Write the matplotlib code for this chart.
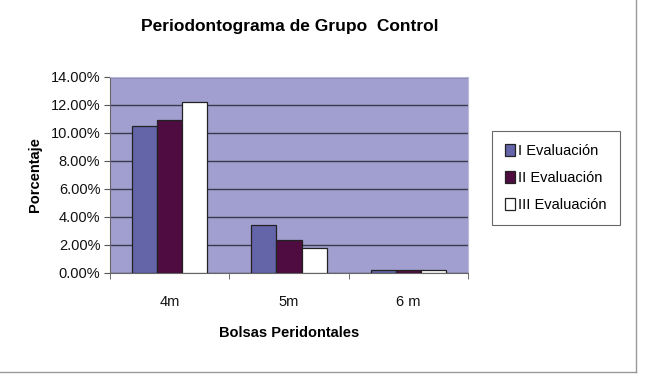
import numpy as np
import matplotlib.pyplot as plt
from matplotlib.ticker import PercentFormatter

plt.rcParams['font.family'] = ['Liberation Sans', 'DejaVu Sans']

# Data
categories = ['4m', '5m', '6 m']
series_names = ['I Evaluación', 'II Evaluación', 'III Evaluación']
eval_1 = [10.5, 3.4, 0.25]
eval_2 = [10.9, 2.35, 0.2]
eval_3 = [12.2, 1.8, 0.22]
yticks = [0, 2, 4, 6, 8, 10, 12, 14]

colors = ['#6464a8', '#4e0c40', '#ffffff']

fig = plt.figure(figsize=(6.54, 3.84), dpi=100)
ax = fig.add_axes([110 / 654, 1 - 273 / 384, 358 / 654, 196 / 384])
ax.set_facecolor('#a19fd0')

x = np.arange(len(categories))
w = 0.21
for i, (vals, name) in enumerate(zip([eval_1, eval_2, eval_3], series_names)):
    ax.bar(x + (i - 1) * w, vals, w, color=colors[i], edgecolor='#222222',
           linewidth=0.9, label=name, zorder=3)

ax.set_xlim(-0.5, 2.5)
ax.set_ylim(0, 14)
ax.set_yticks(yticks)
ax.yaxis.set_major_formatter(PercentFormatter(decimals=2))
ax.set_xticks(x)
ax.set_xticklabels(categories)
ax.set_xticks([-0.5, 0.5, 1.5, 2.5], minor=True)
ax.tick_params(axis='x', which='major', length=0, pad=16, labelsize=10.5)
ax.tick_params(axis='x', which='minor', length=4, color='#555555')
ax.tick_params(axis='y', length=4, color='#555555', labelsize=10.5, pad=3)
for lbl in ax.get_xticklabels() + ax.get_yticklabels():
    lbl.set_color('#111111')

ax.grid(axis='y', color='#3a3a4a', linewidth=1.0, zorder=1)
for s in ['top', 'right']:
    ax.spines[s].set_color('#b8b8d8')
for s in ['left', 'bottom']:
    ax.spines[s].set_color('#666666')

ax.set_xlabel('Bolsas Peridontales', fontsize=10.5, fontweight='bold', labelpad=12)
ax.set_ylabel('Porcentaje', fontsize=10.5, fontweight='bold', labelpad=6)
fig.text(290 / 654, 1 - 26 / 384, 'Periodontograma de Grupo  Control',
         ha='center', va='center', fontsize=12.5, fontweight='bold')

leg = fig.legend(loc='center', bbox_to_anchor=(556 / 654, 1 - 178 / 384),
                 fontsize=10.5, frameon=True, fancybox=False, handlelength=0.7,
                 handleheight=0.9, handletextpad=0.2, borderpad=0.9,
                 labelspacing=0.9, edgecolor='#444444')
leg.get_frame().set_linewidth(0.8)

# page border (right and bottom)
fig.add_artist(plt.Line2D([636 / 654, 636 / 654], [1 - 372 / 384, 1], color='#999999', lw=1))
fig.add_artist(plt.Line2D([0, 636 / 654], [1 - 372 / 384, 1 - 372 / 384], color='#999999', lw=1))

fig.savefig('out.png', dpi=100)
